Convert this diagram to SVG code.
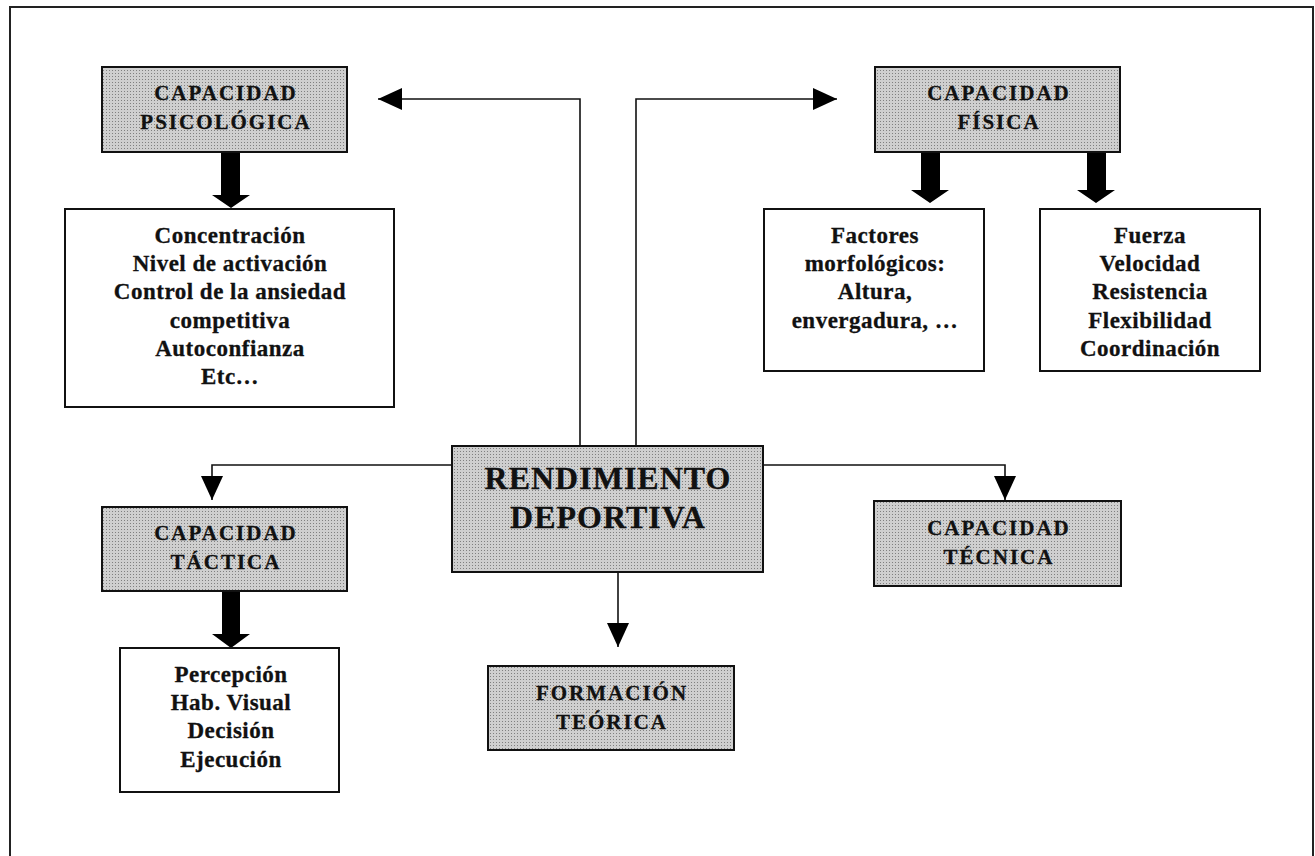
<svg xmlns="http://www.w3.org/2000/svg" width="1315" height="856" viewBox="0 0 1315 856">
<defs>
<pattern id="dots" width="3" height="3" patternUnits="userSpaceOnUse">
<rect width="3" height="3" fill="#cfcfcf"/>
<rect x="1" y="1" width="1" height="1" fill="#808080"/>
</pattern>
<marker id="ah" markerUnits="userSpaceOnUse" markerWidth="24" markerHeight="22" refX="24" refY="11" orient="auto">
<path d="M0,0 L24,11 L0,22 z" fill="#000"/>
</marker>
</defs>
<style>
.frame{fill:none;stroke:#222;stroke-width:2}
.gbox{fill:url(#dots);stroke:#111;stroke-width:2}
.wbox{fill:#fff;stroke:#111;stroke-width:2}
.conn{fill:none;stroke:#111;stroke-width:1.6}
.thick{fill:#000}
text{font-family:"Liberation Serif","Times New Roman",serif;font-weight:bold;fill:#111;stroke:#111;stroke-width:0.3;text-anchor:middle}
.hd{font-size:21px;letter-spacing:2px}
.bd{font-size:23px;letter-spacing:0.5px}
.big{font-size:32px;letter-spacing:1px}
</style>
<rect class="frame" x="10" y="7" width="1303" height="900"/>

<g id="connectors">
<path class="conn" d="M580,446 V99 H378" marker-end="url(#ah)"/>
<path class="conn" d="M636,446 V99 H837" marker-end="url(#ah)"/>
<path class="conn" d="M452,465 H212 V500" marker-end="url(#ah)"/>
<path class="conn" d="M763,465 H1005 V500" marker-end="url(#ah)"/>
<path class="conn" d="M618,572 V647" marker-end="url(#ah)"/>
<polygon class="thick" points="221,152 240,152 240,195 250,195 231,208 212,195 221,195"/>
<polygon class="thick" points="921,150 940,150 940,190 949,190 930,203 911,190 921,190"/>
<polygon class="thick" points="1087,150 1106,150 1106,190 1115,190 1096,203 1077,190 1087,190"/>
<polygon class="thick" points="222,591 240,591 240,634 250,634 231,648 212,634 222,634"/>
</g>

<g id="rendimiento">
<rect class="gbox" x="452" y="446" width="311" height="126"/>
<text class="big" x="608" y="489">RENDIMIENTO</text>
<text class="big" x="608" y="528">DEPORTIVA</text>
</g>

<g id="psicologica">
<rect class="gbox" x="102" y="67" width="245" height="85"/>
<text class="hd" x="226" y="100">CAPACIDAD</text>
<text class="hd" x="226" y="129">PSICOLÓGICA</text>
</g>

<g id="psico-items">
<rect class="wbox" x="65" y="209" width="329" height="198"/>
<text class="bd" x="230" y="243">Concentración</text>
<text class="bd" x="230" y="271">Nivel de activación</text>
<text class="bd" x="230" y="299">Control de la ansiedad</text>
<text class="bd" x="230" y="328">competitiva</text>
<text class="bd" x="230" y="356">Autoconfianza</text>
<text class="bd" x="230" y="384">Etc…</text>
</g>

<g id="fisica">
<rect class="gbox" x="875" y="67" width="245" height="85"/>
<text class="hd" x="999" y="100">CAPACIDAD</text>
<text class="hd" x="999" y="129">FÍSICA</text>
</g>

<g id="morfologicos">
<rect class="wbox" x="764" y="209" width="220" height="162"/>
<text class="bd" x="875" y="243">Factores</text>
<text class="bd" x="875" y="271">morfológicos:</text>
<text class="bd" x="875" y="299">Altura,</text>
<text class="bd" x="875" y="328">envergadura, …</text>
</g>

<g id="condicionales">
<rect class="wbox" x="1040" y="209" width="220" height="162"/>
<text class="bd" x="1150" y="243">Fuerza</text>
<text class="bd" x="1150" y="271">Velocidad</text>
<text class="bd" x="1150" y="299">Resistencia</text>
<text class="bd" x="1150" y="328">Flexibilidad</text>
<text class="bd" x="1150" y="356">Coordinación</text>
</g>

<g id="tactica">
<rect class="gbox" x="102" y="507" width="245" height="84"/>
<text class="hd" x="226" y="540">CAPACIDAD</text>
<text class="hd" x="226" y="569">TÁCTICA</text>
</g>

<g id="tactica-items">
<rect class="wbox" x="120" y="648" width="219" height="144"/>
<text class="bd" x="231" y="682">Percepción</text>
<text class="bd" x="231" y="710">Hab. Visual</text>
<text class="bd" x="231" y="738">Decisión</text>
<text class="bd" x="231" y="767">Ejecución</text>
</g>

<g id="tecnica">
<rect class="gbox" x="874" y="501" width="247" height="85"/>
<text class="hd" x="999" y="535">CAPACIDAD</text>
<text class="hd" x="999" y="564">TÉCNICA</text>
</g>

<g id="formacion">
<rect class="gbox" x="488" y="666" width="246" height="84"/>
<text class="hd" x="612" y="700">FORMACIÓN</text>
<text class="hd" x="612" y="729">TEÓRICA</text>
</g>
</svg>
